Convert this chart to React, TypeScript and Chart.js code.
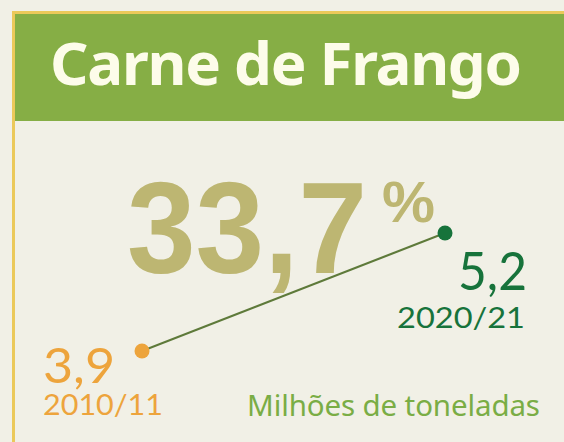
import React, { useEffect, useRef } from "react";
import { Chart, registerables } from "chart.js";

Chart.register(...registerables);

const title = "Carne de Frango";
const seasons = ["2010/11", "2020/21"];
const values = [3.9, 5.2];
const growthLabel = "33,7";
const valueLabels = ["3,9", "5,2"];
const unitLabel = "Milhões de toneladas";

const BG = "#f1f0e6";
const YELLOW = "#ebc95a";
const HEADER = "#86ae45";
const TITLE = "#fdfcea";
const KHAKI = "#bdb672";
const ORANGE = "#eda43c";
const DKGREEN = "#17733b";
const LINE = "#5e7a3a";
const LBLGREEN = "#7aad45";

export default function App() {
  const ref = useRef<HTMLCanvasElement | null>(null);

  useEffect(() => {
    if (!ref.current) return;
    const chart = new Chart(ref.current, {
      type: "line",
      data: {
        labels: seasons,
        datasets: [
          {
            data: values,
            borderColor: LINE,
            borderWidth: 2,
            pointRadius: 7.5,
            pointHoverRadius: 7.5,
            pointBorderWidth: 0,
            pointBackgroundColor: [ORANGE, DKGREEN],
            pointBorderColor: [ORANGE, DKGREEN],
            clip: false,
            tension: 0,
          } as any,
        ],
      },
      options: {
        responsive: false,
        animation: false,
        events: [],
        layout: { padding: { left: 142, right: 119, top: 233, bottom: 91 } },
        scales: {
          x: { display: false, offset: false },
          y: { display: false, min: values[0], max: values[1] },
        },
        plugins: { legend: { display: false }, tooltip: { enabled: false } },
      },
    });
    return () => chart.destroy();
  }, []);

  return (
    <div style={{ position: "fixed", left: 0, top: 0, width: 564, height: 442, background: BG, overflow: "hidden" }}>
      <svg width={564} height={442} style={{ position: "absolute", left: 0, top: 0 }}>
        <rect x={0} y={0} width={564} height={442} fill={BG} />
        <rect x={12} y={11} width={552} height={3} fill={YELLOW} />
        <rect x={12} y={11} width={3} height={431} fill={YELLOW} />
        <rect x={15} y={14} width={549} height={107} fill={HEADER} />
        <text x={50} y={85} fontFamily="'Noto Sans', sans-serif" fontWeight={700} fontSize={60} fill={TITLE} textLength={472} lengthAdjust="spacing">{title}</text>
        <text x={127} y={273} fontFamily="'Liberation Sans', Arial, sans-serif" fontWeight={700} fontSize={130} fill={KHAKI} textLength={240} lengthAdjust="spacingAndGlyphs">{growthLabel}</text>
        <text x={382} y={222} fontFamily="'Liberation Sans', Arial, sans-serif" fontWeight={700} fontSize={58} fill={KHAKI} textLength={53} lengthAdjust="spacingAndGlyphs">%</text>
        <text x={43} y={383} fontFamily="Lato, sans-serif" fontWeight={400} fontSize={49} fill={ORANGE} textLength={72} lengthAdjust="spacingAndGlyphs">{valueLabels[0]}</text>
        <text x={43} y={415} fontFamily="Lato, sans-serif" fontWeight={400} fontSize={28} fill={ORANGE} textLength={120} lengthAdjust="spacingAndGlyphs">{seasons[0]}</text>
        <text x={458} y={290} fontFamily="Lato, sans-serif" fontWeight={400} fontSize={53} fill={DKGREEN} textLength={69} lengthAdjust="spacingAndGlyphs">{valueLabels[1]}</text>
        <text x={397} y={328} fontFamily="Lato, sans-serif" fontWeight={400} fontSize={28} fill={DKGREEN} textLength={128} lengthAdjust="spacingAndGlyphs">{seasons[1]}</text>
        <text x={247} y={416} fontFamily="'Noto Sans', sans-serif" fontWeight={400} fontSize={29.5} fill={LBLGREEN} textLength={293} lengthAdjust="spacing">{unitLabel}</text>
      </svg>
      <canvas ref={ref} width={564} height={442} style={{ position: "absolute", left: 0, top: 0 }} />
    </div>
  );
}
